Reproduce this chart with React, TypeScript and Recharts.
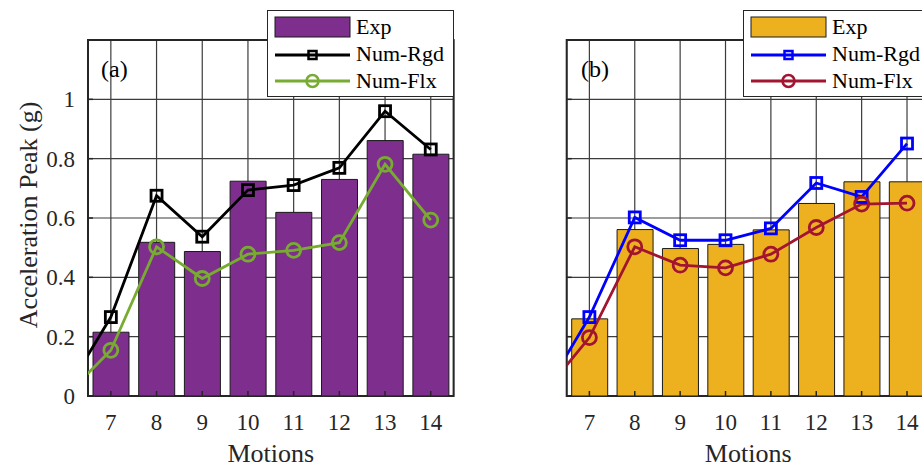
import {
  ComposedChart,
  Bar,
  Line,
  XAxis,
  YAxis,
  CartesianGrid,
  ReferenceArea,
  Legend,
} from 'recharts';

// motion 6 sits just outside the axes; only the line stubs from it show
const motions = [6, 7, 8, 9, 10, 11, 12, 13, 14];
const xTicks = [7, 8, 9, 10, 11, 12, 13, 14];
const yTicks = [0, 0.2, 0.4, 0.6, 0.8, 1];

const expA = [null, 0.215, 0.518, 0.487, 0.724, 0.619, 0.73, 0.861, 0.815];
const rgdA = [0.01, 0.266, 0.675, 0.537, 0.694, 0.711, 0.769, 0.96, 0.831];
const flxA = [0, 0.154, 0.503, 0.396, 0.478, 0.491, 0.517, 0.781, 0.593];

const expB = [null, 0.26, 0.561, 0.497, 0.511, 0.56, 0.649, 0.722, 0.722];
const rgdB = [0.01, 0.266, 0.602, 0.525, 0.525, 0.565, 0.718, 0.671, 0.851];
const flxB = [0.011, 0.197, 0.503, 0.441, 0.432, 0.478, 0.568, 0.647, 0.65];

const FONT = "'Liberation Serif', 'DejaVu Serif', serif";
const AXIS = '#262626';
const GRID = '#3c3c3c';

function buildRows(exp: (number | null)[], rgd: number[], flx: number[]) {
  return motions.map((m, i) => ({ motion: m, exp: exp[i], rgd: rgd[i], flx: flx[i] }));
}

function XTick({ x, y, payload }: any) {
  return (
    <g>
      <line x1={x} x2={x} y1={y} y2={y - 5} stroke={AXIS} strokeWidth={1.5} />
      <text x={x} y={y + 34} textAnchor="middle" fontSize={23} style={{ fontFamily: FONT }} fill={AXIS}>
        {payload.value}
      </text>
    </g>
  );
}

function YTick({ x, y, payload, showLabel }: any) {
  const v = Math.round(payload.value * 10) / 10;
  return (
    <g>
      <line x1={x} x2={x + 5} y1={y} y2={y} stroke={AXIS} strokeWidth={1.5} />
      {showLabel && (
        <text x={x - 13} y={y + 8} textAnchor="end" fontSize={23} style={{ fontFamily: FONT }} fill={AXIS}>
          {v}
        </text>
      )}
    </g>
  );
}

function squareDot(color: string) {
  return (props: any) => {
    const { cx, cy, index } = props;
    if (cx == null || cy == null) return <g key={index} />;
    return (
      <rect
        key={index}
        x={cx - 5.5}
        y={cy - 5.5}
        width={11}
        height={11}
        fill="none"
        stroke={color}
        strokeWidth={2.8}
      />
    );
  };
}

function LegendBox({ bar, rgd, flx }: { bar: string; rgd: string; flx: string }) {
  const txt = { fontSize: 22, style: { fontFamily: FONT }, fill: '#000' };
  return (
    <svg width={187} height={87} style={{ display: 'block' }}>
      <rect x={0.5} y={0.5} width={186} height={86} fill="#fff" stroke={AXIS} strokeWidth={1} />
      <rect x={8} y={7} width={75} height={20} fill={bar} stroke="#1a1a1a" strokeWidth={1} />
      <text x={89} y={23.5} {...txt}>Exp</text>
      <line x1={8} x2={83} y1={45} y2={45} stroke={rgd} strokeWidth={2.8} />
      <rect x={41.5} y={41} width={8} height={8} fill="none" stroke={rgd} strokeWidth={2.5} />
      <text x={89} y={51} {...txt}>Num-Rgd</text>
      <line x1={8} x2={83} y1={71} y2={71} stroke={flx} strokeWidth={2.8} />
      <circle cx={45.5} cy={71} r={6} fill="none" stroke={flx} strokeWidth={2.5} />
      <text x={89} y={77.5} {...txt}>Num-Flx</text>
    </svg>
  );
}

interface PanelProps {
  exp: (number | null)[];
  rgd: number[];
  flx: number[];
  barColor: string;
  rgdColor: string;
  flxColor: string;
  width: number;
  yAxisWidth: number;
  rightMargin: number;
  legendLeft: number;
  showYLabels: boolean;
}

function Panel(p: PanelProps) {
  const rows = buildRows(p.exp, p.rgd, p.flx);
  return (
    <ComposedChart
      width={p.width}
      height={468}
      data={rows}
      margin={{ top: 40, right: p.rightMargin, bottom: 0, left: 0 }}
    >
      <CartesianGrid stroke={GRID} strokeWidth={1.2} />
      <XAxis
        dataKey="motion"
        type="number"
        domain={[6.5, 14.5]}
        ticks={xTicks}
        allowDataOverflow
        interval={0}
        height={72}
        tickSize={0}
        tickMargin={0}
        axisLine={false}
        tick={<XTick />}
        label={{
          value: 'Motions',
          position: 'insideBottom',
          offset: 6,
          style: { fontSize: 26, fontFamily: FONT, fill: AXIS },
        }}
      />
      <YAxis
        type="number"
        domain={[0, 1.2]}
        ticks={yTicks}
        allowDataOverflow
        width={p.yAxisWidth}
        tickSize={0}
        tickMargin={0}
        axisLine={false}
        tick={<YTick showLabel={p.showYLabels} />}
        label={
          p.showYLabels
            ? {
                content: () => (
                  <text
                    x={37}
                    y={215}
                    transform="rotate(-90 37 215)"
                    textAnchor="middle"
                    fontSize={26}
                    style={{ fontFamily: FONT }}
                    fill={AXIS}
                  >
                    Acceleration Peak (g)
                  </text>
                ),
              }
            : undefined
        }
      />
      <Bar
        dataKey="exp"
        barSize={36}
        fill={p.barColor}
        stroke="#1a1a1a"
        strokeWidth={1}
        isAnimationActive={false}
      />
      <Line
        dataKey="rgd"
        stroke={p.rgdColor}
        strokeWidth={2.8}
        dot={squareDot(p.rgdColor)}
        activeDot={false}
        isAnimationActive={false}
      />
      <Line
        dataKey="flx"
        stroke={p.flxColor}
        strokeWidth={2.8}
        dot={{ r: 7, fill: 'none', stroke: p.flxColor, strokeWidth: 2.8 }}
        activeDot={false}
        isAnimationActive={false}
      />
      <ReferenceArea
        x1={6.5}
        x2={14.5}
        y1={0}
        y2={1.2}
        fill="none"
        fillOpacity={0}
        stroke={AXIS}
        strokeWidth={2}
        strokeOpacity={1}
      />
      <Legend
        layout="horizontal"
        verticalAlign="middle"
        align="center"
        wrapperStyle={{ top: 10, left: p.legendLeft, width: 187, height: 87 }}
        content={() => <LegendBox bar={p.barColor} rgd={p.rgdColor} flx={p.flxColor} />}
      />
    </ComposedChart>
  );
}

export default function App() {
  const tagStyle = {
    position: 'absolute' as const,
    top: 57,
    fontSize: 24,
    lineHeight: '24px',
    fontFamily: FONT,
    color: '#000',
    pointerEvents: 'none' as const,
  };
  return (
    <div
      style={{
        position: 'fixed',
        left: 0,
        top: 0,
        width: 922,
        height: 468,
        overflow: 'hidden',
        background: '#fff',
      }}
    >
      <div style={{ position: 'absolute', left: 0, top: 0 }}>
        <Panel
          exp={expA}
          rgd={rgdA}
          flx={flxA}
          barColor="#7E2F8E"
          rgdColor="#000000"
          flxColor="#77AC30"
          width={470}
          yAxisWidth={88}
          rightMargin={16.4}
          legendLeft={267}
          showYLabels
        />
      </div>
      <div style={{ position: 'absolute', left: 470, top: 0 }}>
        <Panel
          exp={expB}
          rgd={rgdB}
          flx={flxB}
          barColor="#EDB120"
          rgdColor="#0000FF"
          flxColor="#A2142F"
          width={480}
          yAxisWidth={96.7}
          rightMargin={20.3}
          legendLeft={272.7}
          showYLabels={false}
        />
      </div>
      <div style={{ ...tagStyle, left: 101 }}>(a)</div>
      <div style={{ ...tagStyle, left: 581 }}>(b)</div>
    </div>
  );
}
